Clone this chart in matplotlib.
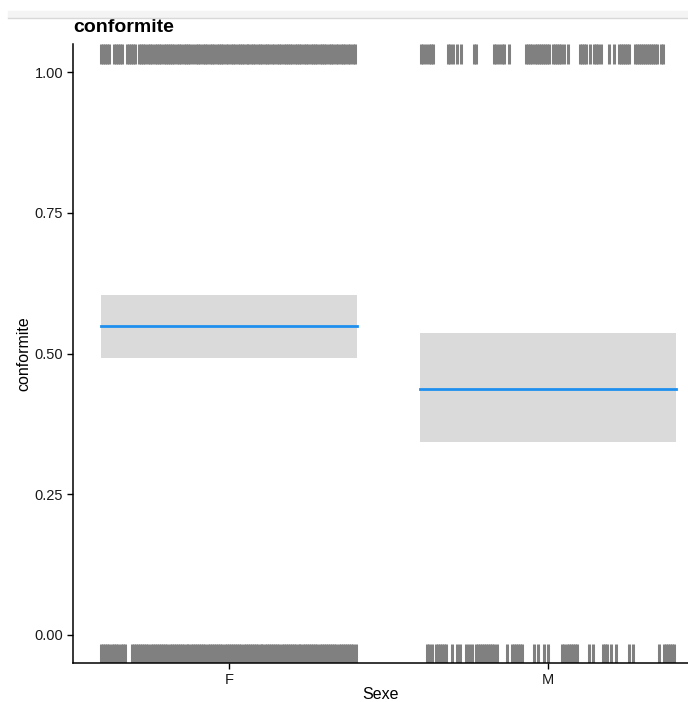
import matplotlib
matplotlib.use("Agg")
import matplotlib.pyplot as plt
from matplotlib.patches import Rectangle
from matplotlib.lines import Line2D

plt.rcParams['font.family'] = ['Liberation Sans', 'DejaVu Sans']

# groups and model estimates
groups = ["F", "M"]
group_pos = [1, 2]
estimate = [0.549, 0.437]
ci_low = [0.492, 0.343]
ci_high = [0.604, 0.536]

# jittered raw data (x position) for conformite = 1
x_ones_F = [0.599, 0.605, 0.611, 0.618, 0.624,
            0.639, 0.646, 0.652, 0.658, 0.665,
            0.680, 0.687, 0.693, 0.699, 0.705,
            0.718, 0.725, 0.731, 0.738, 0.746, 0.752, 0.759, 0.767, 0.773, 0.780,
            0.788, 0.795, 0.801, 0.808, 0.816, 0.822, 0.829, 0.837, 0.843, 0.850,
            0.858, 0.865, 0.871, 0.879, 0.886, 0.896, 0.903, 0.910, 0.917, 0.925,
            0.932, 0.940, 0.947, 0.954, 0.961, 0.968, 0.975, 0.982, 0.990, 0.998,
            1.005, 1.012, 1.020, 1.027, 1.034, 1.041, 1.048, 1.055, 1.061, 1.068,
            1.075, 1.082, 1.090, 1.098, 1.105, 1.112, 1.120, 1.127, 1.134, 1.142,
            1.149, 1.156, 1.163, 1.171, 1.178, 1.185, 1.192, 1.199, 1.206, 1.213,
            1.220, 1.227, 1.234, 1.241, 1.249, 1.256, 1.263, 1.270, 1.277, 1.284,
            1.291, 1.298, 1.305, 1.312, 1.319, 1.327, 1.335, 1.343, 1.350, 1.358,
            1.365, 1.372, 1.380, 1.388, 1.395]
x_ones_M = [1.602, 1.608, 1.618, 1.627, 1.633, 1.639, 1.687, 1.693, 1.702, 1.715,
            1.727, 1.768, 1.774, 1.831, 1.837, 1.846, 1.856, 1.862, 1.878, 1.931,
            1.937, 1.944, 1.950, 1.959, 1.966, 1.972, 1.978, 1.984, 1.991, 1.997,
            2.003, 2.016, 2.022, 2.028, 2.034, 2.041, 2.050, 2.063, 2.100, 2.107,
            2.113, 2.119, 2.132, 2.144, 2.150, 2.157, 2.166, 2.191, 2.207, 2.223,
            2.229, 2.235, 2.241, 2.248, 2.254, 2.273, 2.279, 2.285, 2.292, 2.298,
            2.304, 2.310, 2.317, 2.323, 2.329, 2.335, 2.342, 2.354, 2.361]

# jittered raw data (x position) for conformite = 0
x_zeros_F = [0.599, 0.606, 0.612, 0.619, 0.625, 0.632, 0.639, 0.645, 0.651,
             0.661, 0.667, 0.674,
             0.695, 0.701, 0.708, 0.714, 0.721, 0.728, 0.734, 0.741, 0.747, 0.754,
             0.761, 0.767, 0.774, 0.781, 0.787, 0.794, 0.800, 0.807, 0.814, 0.820,
             0.827, 0.834, 0.840, 0.847, 0.853, 0.860, 0.867, 0.873, 0.880, 0.887,
             0.893, 0.900, 0.906, 0.913, 0.920, 0.926, 0.933, 0.940, 0.946, 0.953,
             0.959, 0.966, 0.973, 0.979, 0.986, 0.993, 0.999, 1.006, 1.012, 1.019,
             1.026, 1.032, 1.039, 1.046, 1.052, 1.059, 1.065, 1.072, 1.079, 1.085,
             1.092, 1.099, 1.105, 1.112, 1.118, 1.125, 1.132, 1.138, 1.145, 1.152,
             1.158, 1.165, 1.171, 1.178, 1.185, 1.191, 1.198, 1.205, 1.211, 1.218,
             1.224, 1.231, 1.238, 1.244, 1.251, 1.258, 1.264, 1.271, 1.277, 1.284,
             1.291, 1.297, 1.304, 1.311, 1.317, 1.324, 1.330, 1.337, 1.344, 1.350,
             1.357, 1.364, 1.370, 1.377, 1.383, 1.390, 1.397]
x_zeros_M = [1.621, 1.627, 1.636, 1.649, 1.655, 1.661, 1.668, 1.674, 1.680, 1.699,
             1.715, 1.724, 1.743, 1.752, 1.762, 1.774, 1.781, 1.787, 1.793, 1.799,
             1.806, 1.812, 1.818, 1.824, 1.831, 1.840, 1.871, 1.887, 1.893, 1.900,
             1.906, 1.912, 1.918, 1.956, 1.969, 1.987, 2.000, 2.044, 2.050, 2.060,
             2.066, 2.072, 2.078, 2.085, 2.091, 2.129, 2.141, 2.172, 2.179, 2.185,
             2.197, 2.213, 2.254, 2.266, 2.348, 2.364, 2.370, 2.376, 2.382, 2.389,
             2.395]

fig = plt.figure(figsize=(6.88, 7.02), dpi=100)

# light bar at the top (screenshot header)
fig.patches.append(Rectangle((8 / 688, 1 - 17 / 702), 1, 6 / 702,
                             transform=fig.transFigure, color="#f4f4f4", zorder=0))
fig.lines.append(Line2D([8 / 688, 1], [1 - 18 / 702, 1 - 18 / 702],
                        transform=fig.transFigure, color="#d8d8d8", lw=1))

ax = fig.add_axes([73 / 688, 1 - 663 / 702, 1 - 73 / 688, 619 / 702])

rug_color = "#808080"
ax.vlines(x_ones_F + x_ones_M, 1.014, 1.050, color=rug_color, lw=2.2)
ax.vlines(x_zeros_F + x_zeros_M, -0.050, -0.016, color=rug_color, lw=2.2)

for pos, est, lo, hi in zip(group_pos, estimate, ci_low, ci_high):
    ax.fill_between([pos - 0.4, pos + 0.4], lo, hi, color="#dadada", lw=0, zorder=2)
    ax.plot([pos - 0.4, pos + 0.4], [est, est], color="#1f8fef", lw=2.0, zorder=3)

ax.set_xlim(0.511, 2.439)
ax.set_ylim(-0.05, 1.05)
ax.set_xticks(group_pos)
ax.set_xticklabels(groups)
ax.set_yticks([0, 0.25, 0.5, 0.75, 1.0])
ax.set_yticklabels(["0.00", "0.25", "0.50", "0.75", "1.00"])
ax.tick_params(labelsize=10.5, length=4, width=1, color="black", labelcolor="#1a1a1a")
ax.tick_params(axis="y", pad=3)

for side in ["top", "right"]:
    ax.spines[side].set_visible(False)
for side in ["left", "bottom"]:
    ax.spines[side].set_linewidth(1.1)
    ax.spines[side].set_color("black")

ax.set_xlabel("Sexe", fontsize=11.5, labelpad=0)
ax.set_ylabel("conformite", fontsize=11.5, labelpad=2)
ax.set_title("conformite", loc="left", fontsize=14, fontweight="bold", pad=9)

fig.savefig("out.png", dpi=100)
